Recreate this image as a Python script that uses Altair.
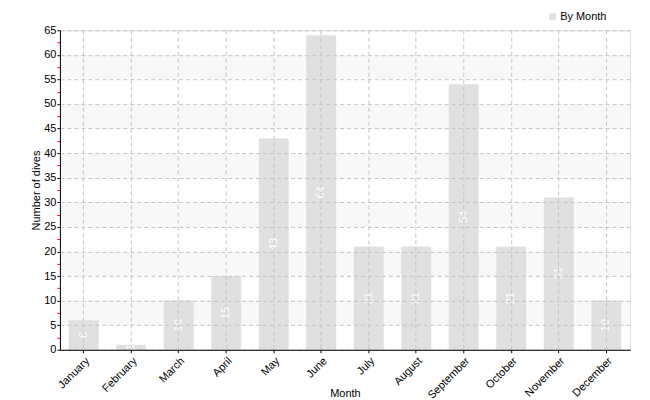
import altair as alt
import pandas as pd

months = ["January", "February", "March", "April", "May", "June", "July",
          "August", "September", "October", "November", "December"]
dives = [6, 1, 10, 15, 43, 64, 21, 21, 54, 21, 31, 10]
series_name = "By Month"
band_lo = [5, 15, 25, 35, 45, 55]
band_hi = [10, 20, 30, 40, 50, 60]
y_ticks = [i * 2.5 for i in range(27)]

df = pd.DataFrame({"Month": months, "Dives": dives, "Series": [series_name] * len(months)})
bands = pd.DataFrame({"lo": band_lo, "hi": band_hi})

FONT = "Liberation Sans"

xscale = alt.Scale(domain=months, paddingInner=0.37, paddingOuter=0.185)
yscale = alt.Scale(domain=[0, 65], nice=False)

x_axis = alt.Axis(
    title="Month", labelAngle=-45, bandPosition=0.5, grid=True,
    gridDash=[4, 3], gridColor="#c4c4c4", domainColor="black", tickColor="black",
    tickSize=3, labelColor="black", labelFontSize=11, labelFont=FONT,
    titleFont=FONT, titleFontSize=11, titleFontWeight="normal", titleColor="black",
    titleY=38, titleBaseline="top", zindex=1, labelPadding=2, labelOverlap=False,
)
y_axis = alt.Axis(
    title="Number of dives", values=y_ticks,
    labelExpr="datum.value % 5 == 0 ? datum.label : ''",
    labelOverlap=False,
    tickColor={"condition": {"test": "datum.value % 5 != 0", "value": "red"}, "value": "black"},
    gridOpacity={"condition": {"test": "datum.value % 5 != 0", "value": 0}, "value": 1},
    grid=True, gridDash=[4, 3], gridColor="#c4c4c4", domainColor="black",
    tickSize=3, labelPadding=1, labelColor="black", labelFontSize=11, labelFont=FONT,
    titleFont=FONT, titleFontSize=11, titleFontWeight="normal", titleColor="black",
    titlePadding=2, zindex=1,
)

band_layer = alt.Chart(bands).mark_rect(color="#f8f8f8").encode(
    y=alt.Y("lo:Q", scale=yscale, axis=y_axis, title="Number of dives"),
    y2="hi:Q",
)

bar_layer = alt.Chart(df).mark_bar(opacity=1).encode(
    x=alt.X("Month:N", scale=xscale, axis=x_axis, sort=months),
    y=alt.Y("Dives:Q", scale=yscale, axis=y_axis, title="Number of dives"),
    fill=alt.Fill("Series:N", scale=alt.Scale(range=["#e0e0e0"]),
                  legend=alt.Legend(title=None, orient="none", legendX=488, legendY=-19,
                                    symbolType="square", symbolSize=49,
                                    labelFont=FONT, labelFontSize=11, labelColor="black",
                                    symbolStrokeWidth=0, labelOffset=2)),
)

text_layer = alt.Chart(df).transform_calculate(mid="datum.Dives / 2").mark_text(
    angle=270, color="white", fontSize=11, font=FONT, baseline="middle", align="center",
).encode(
    x=alt.X("Month:N", scale=xscale, axis=x_axis, sort=months),
    y=alt.Y("mid:Q", scale=yscale, axis=y_axis, title="Number of dives"),
    text=alt.Text("Dives:Q"),
)

chart = alt.layer(band_layer, bar_layer, text_layer).properties(
    width=571, height=320,
    autosize=alt.AutoSizeParams(type="none"),
    padding={"left": 52, "top": 22, "right": 12, "bottom": 50},
).configure_view(stroke=None).configure(background="white")

chart.save("out.html", embed_options={"renderer": "svg", "actions": False})
